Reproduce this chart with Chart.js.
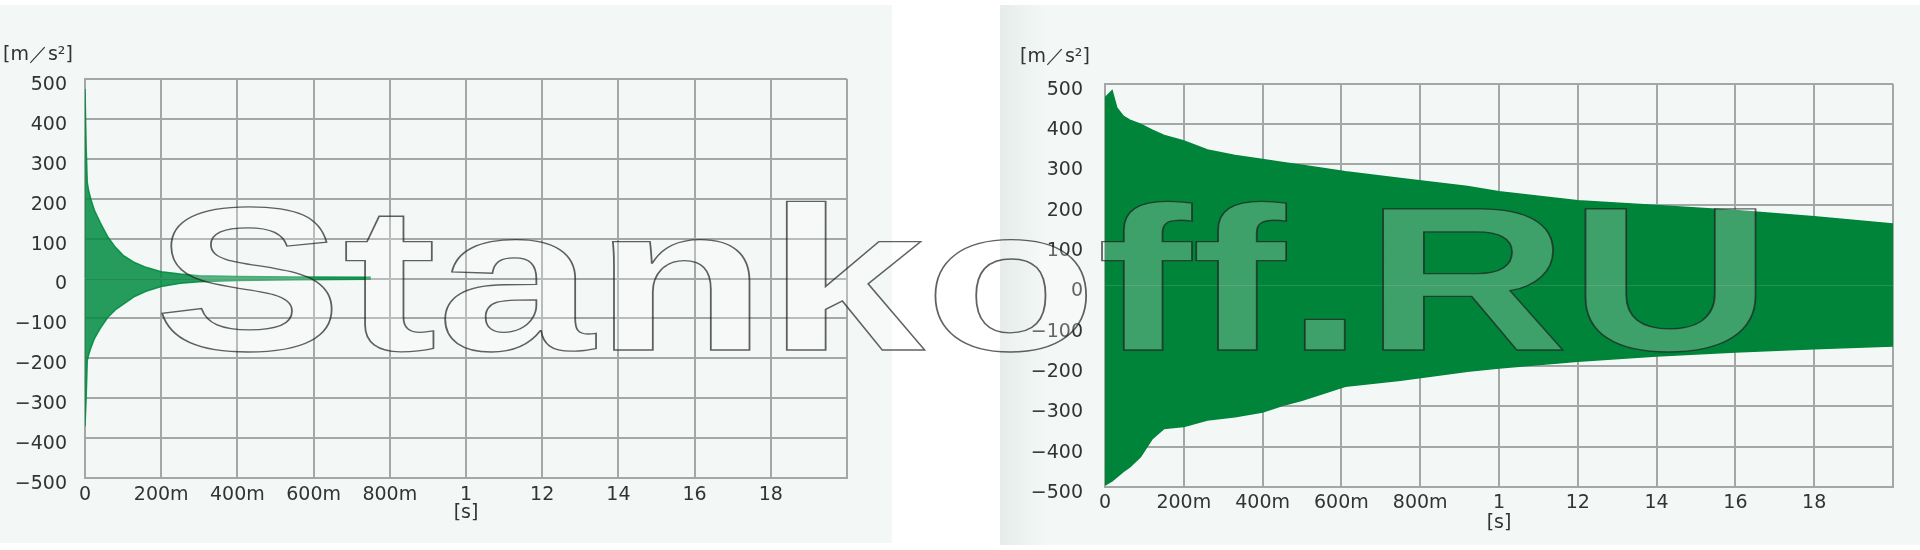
<!DOCTYPE html>
<html>
<head>
<meta charset="utf-8">
<script src="https://cdn.jsdelivr.net/npm/chart.js@4"></script>
<style>
  body { margin: 0; width: 1920px; height: 550px; background: #fff; position: relative; overflow: hidden; }
  .panel { position: absolute; background: #f3f8f6; }
  #leftPanel { left: 0; top: 5px; width: 892px; height: 538px; }
  #rightPanel { left: 1000px; top: 5px; width: 920px; height: 540px;
    background: linear-gradient(to right, #e6ecea 0px, #f3f8f6 45px, #f3f8f6 100%); }
  canvas { position: absolute; top: 0; }
  #leftChart { left: 0; }
  #rightChart { left: 1000px; }
  #watermark {
    position: absolute; left: 154px; top: 176px;
    font: bold 205px "Liberation Sans", Arial, sans-serif; line-height: 1;
    color: rgba(255, 255, 255, 0.24);
    -webkit-text-stroke: 1.3px rgba(30, 30, 30, 0.7);
    transform: scaleX(1.38); transform-origin: 0 0;
    white-space: nowrap; pointer-events: none;
  }
</style>
</head>
<body>
<div class="panel" id="leftPanel"></div>
<div class="panel" id="rightPanel"></div>
<canvas id="leftChart" width="892" height="545"></canvas>
<canvas id="rightChart" width="920" height="545"></canvas>
<div id="watermark">Stankoff.RU</div>

<script>
// axis labels as printed on the picture
const yTickLabels = ['−500', '−400', '−300', '−200', '−100', '0', '100', '200', '300', '400', '500'];
const xTickLabels = ['0', '200m', '400m', '600m', '800m', '1', '12', '14', '16', '18'];

// left: fast decay (seconds, m/s²) - envelope
const leftTimes = [0, 0.003, 0.006, 0.01, 0.015, 0.025, 0.04, 0.06, 0.08, 0.1, 0.13, 0.16, 0.2, 0.25, 0.3, 0.4, 0.55, 0.75];
const leftUpper = [475, 330, 240, 218, 200, 170, 140, 104, 78, 58, 40, 28, 17, 11, 7, 5, 4, 3];
const leftLower = [-370, -300, -205, -190, -175, -150, -125, -97, -78, -65, -45, -32, -20, -12, -8, -5, -3, -2];

// right: slow decay
const rightTimes = [0, 0.018, 0.03, 0.046, 0.063, 0.09, 0.12, 0.15, 0.18, 0.2, 0.26, 0.33, 0.4, 0.45, 0.5, 0.61, 0.75, 0.92, 1.0, 1.2, 1.4, 1.6, 1.8, 2.0];
const rightUpper = [465, 483, 440, 420, 410, 400, 385, 372, 364, 358, 336, 322, 312, 305, 298, 282, 265, 245, 232, 210, 198, 186, 170, 152];
const rightLower = [-495, -485, -475, -462, -450, -425, -380, -355, -352, -350, -334, -326, -314, -298, -285, -250, -235, -213, -205, -188, -175, -165, -157, -150];

const TEXT_COLOR = '#333';
const GRID_COLOR = '#a3a8a7';
const FONT = { family: 'DejaVu Sans', size: 19 };

function toPoints(times, values) {
  return times.map((t, i) => ({ x: t, y: values[i] }));
}

function makeChart(id, cfg) {
  const ctx = document.getElementById(id).getContext('2d');
  return new Chart(ctx, {
    type: 'line',
    data: {
      datasets: [
        {
          data: toPoints(cfg.times, cfg.upper),
          borderColor: cfg.color,
          backgroundColor: cfg.fill,
          borderWidth: 1.5,
          pointRadius: 0,
          fill: 'origin'
        },
        {
          data: toPoints(cfg.times, cfg.lower),
          borderColor: cfg.color,
          backgroundColor: cfg.fill,
          borderWidth: 1.5,
          pointRadius: 0,
          fill: 'origin'
        }
      ]
    },
    options: {
      responsive: false,
      animation: false,
      layout: { padding: { left: cfg.padLeft, right: cfg.padRight, top: 0, bottom: 0 } },
      plugins: {
        legend: { display: false },
        tooltip: { enabled: false },
        title: {
          display: true,
          text: '[m／s²]',
          align: 'start',
          color: TEXT_COLOR,
          font: { ...FONT, weight: 'normal', lineHeight: 1.2 },
          padding: { top: cfg.titleTop, bottom: cfg.titleBottom }
        }
      },
      scales: {
        x: {
          type: 'linear',
          min: 0,
          max: 2,
          afterFit: s => { s.height = cfg.xHeight; },
          grid: { color: GRID_COLOR, lineWidth: 2, drawTicks: false },
          border: { color: GRID_COLOR, width: 2 },
          ticks: {
            stepSize: 0.2,
            autoSkip: false,
            maxRotation: 0,
            padding: cfg.xPad,
            color: TEXT_COLOR,
            font: FONT,
            callback: (v, i) => xTickLabels[i] ?? ''
          },
          title: {
            display: true,
            text: '[s]',
            color: TEXT_COLOR,
            font: { ...FONT, lineHeight: 1.2 },
            padding: { top: 0, bottom: cfg.sPad }
          }
        },
        y: {
          min: -500,
          max: 500,
          afterFit: s => { s.width = cfg.yWidth; },
          grid: { color: GRID_COLOR, lineWidth: 2, drawTicks: false },
          border: { color: GRID_COLOR, width: 2 },
          ticks: {
            stepSize: 100,
            padding: cfg.yPad,
            labelOffset: 6,
            color: TEXT_COLOR,
            font: FONT,
            callback: (v, i) => yTickLabels[i]
          }
        }
      }
    }
  });
}

makeChart('leftChart', {
  times: leftTimes, upper: leftUpper, lower: leftLower,
  color: 'rgba(0,140,65,0.9)', fill: 'rgba(0,140,65,0.85)',
  padLeft: 3, padRight: 45, titleTop: 44, titleBottom: 12.2,
  yWidth: 82, yPad: 18, xHeight: 67, xPad: 6, sPad: 21
});

makeChart('rightChart', {
  times: rightTimes, upper: rightUpper, lower: rightLower,
  color: '#00843a', fill: '#00843a',
  padLeft: 20, padRight: 27, titleTop: 46, titleBottom: 15,
  yWidth: 85, yPad: 22, xHeight: 58, xPad: 5, sPad: 11
});
</script>
</body>
</html>
